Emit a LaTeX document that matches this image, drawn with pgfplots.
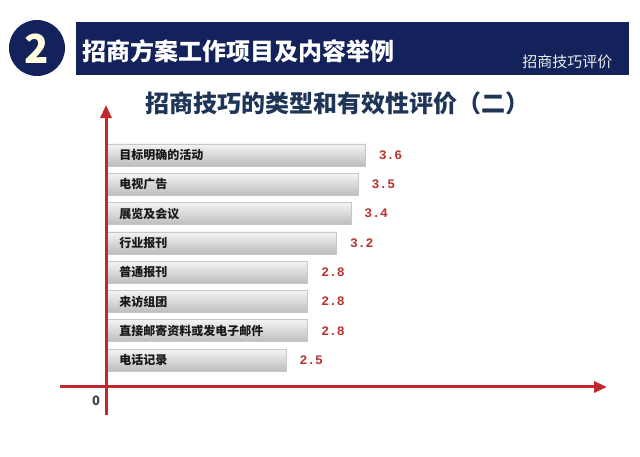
\documentclass[border=0pt]{standalone}
\usepackage{fontspec}
\setmainfont{Noto Sans CJK SC}
\newfontfamily\cjk{Noto Sans CJK SC}
\newfontfamily\numfont{Liberation Mono}
\usepackage{pgfplots}
\pgfplotsset{compat=1.18}
\usetikzlibrary{arrows.meta}
\definecolor{navy}{HTML}{13225A}
\definecolor{titleblue}{HTML}{1F3557}
\definecolor{axred}{HTML}{C0282D}
\definecolor{numred}{HTML}{B83330}
\definecolor{barhi}{HTML}{F4F4F4}
\definecolor{barlo}{HTML}{BDBDBD}
\tikzset{barstyle/.style={draw=black!22, line width=0.6pt, top color=barhi, bottom color=barlo}}

\begin{document}
\begin{tikzpicture}[x=1pt,y=1pt]
\useasboundingbox (0,0) rectangle (640,456);
\fill[white] (0,0) rectangle (640,456);

% header
\fill[navy] (76,381) rectangle (629,434);
\fill[navy] (37,408) circle (28);
\node[text=white!88!yellow, font=\cjk\bfseries\fontsize{40}{40}\selectfont] at (37,407) {2};
\node[anchor=west, text=white, font=\cjk\bfseries\fontsize{24}{26}\selectfont] at (79,405) {招商方案工作项目及内容举例};
\node[anchor=east, text=white!85!gray, font=\cjk\fontsize{15}{17}\selectfont] at (616,394) {招商技巧评价};

% chart title
\node[text=titleblue, font=\cjk\bfseries\fontsize{24}{26}\selectfont] at (337,353) {招商技巧的类型和有效性评价（二）};

\begin{axis}[
  at={(60pt,41pt)}, anchor=south west,
  scale only axis, width=547pt, height=310pt,
  xmin=-0.639, xmax=6.958,
  ymin=-1.706, ymax=8.874,
  y dir=reverse,
  clip=false,
  axis on top,
  axis line style={draw=none},
  tick style={draw=none},
  xtick=\empty,
  ytick={0,1,2,3,4,5,6,7},
  yticklabels={目标明确的活动,电视广告,展览及会议,行业报刊,普通报刊,来访组团,直接邮寄资料或发电子邮件,电话记录},
  yticklabel style={anchor=west, xshift=60pt, text=black!90,
    font=\cjk\bfseries\fontsize{12}{14}\selectfont},
  xbar, bar width=22pt, bar shift=0pt,
  point meta=x,
  /pgf/number format/assume math mode=true,
  nodes near coords={\pgfmathprintnumber[fixed,fixed zerofill,precision=1]{\pgfplotspointmeta}},
  nodes near coords style={text=numred, xshift=10pt,
    font=\numfont\bfseries\fontsize{13}{15}\selectfont},
]
\addplot[barstyle] coordinates {(3.6,0)};
\addplot[barstyle] coordinates {(3.5,1)};
\addplot[barstyle] coordinates {(3.4,2)};
\addplot[barstyle] coordinates {(3.2,3)};
\addplot[barstyle] coordinates {(2.8,4)};
\addplot[barstyle] coordinates {(2.8,5)};
\addplot[barstyle] coordinates {(2.8,6)};
\addplot[barstyle] coordinates {(2.5,7)};

\draw[axred, line width=3pt, -{Triangle[length=13pt,width=11pt]}]
  (axis cs:-0.639,7.918) -- (axis cs:6.958,7.918);
\draw[axred, line width=3pt, -{Triangle[length=13pt,width=11pt]}]
  (axis cs:0,8.874) -- (axis cs:0,-1.706);
\end{axis}

\node[text=black!75, font=\cjk\bfseries\fontsize{13}{15}\selectfont] at (96,55) {0};
\end{tikzpicture}
\end{document}
